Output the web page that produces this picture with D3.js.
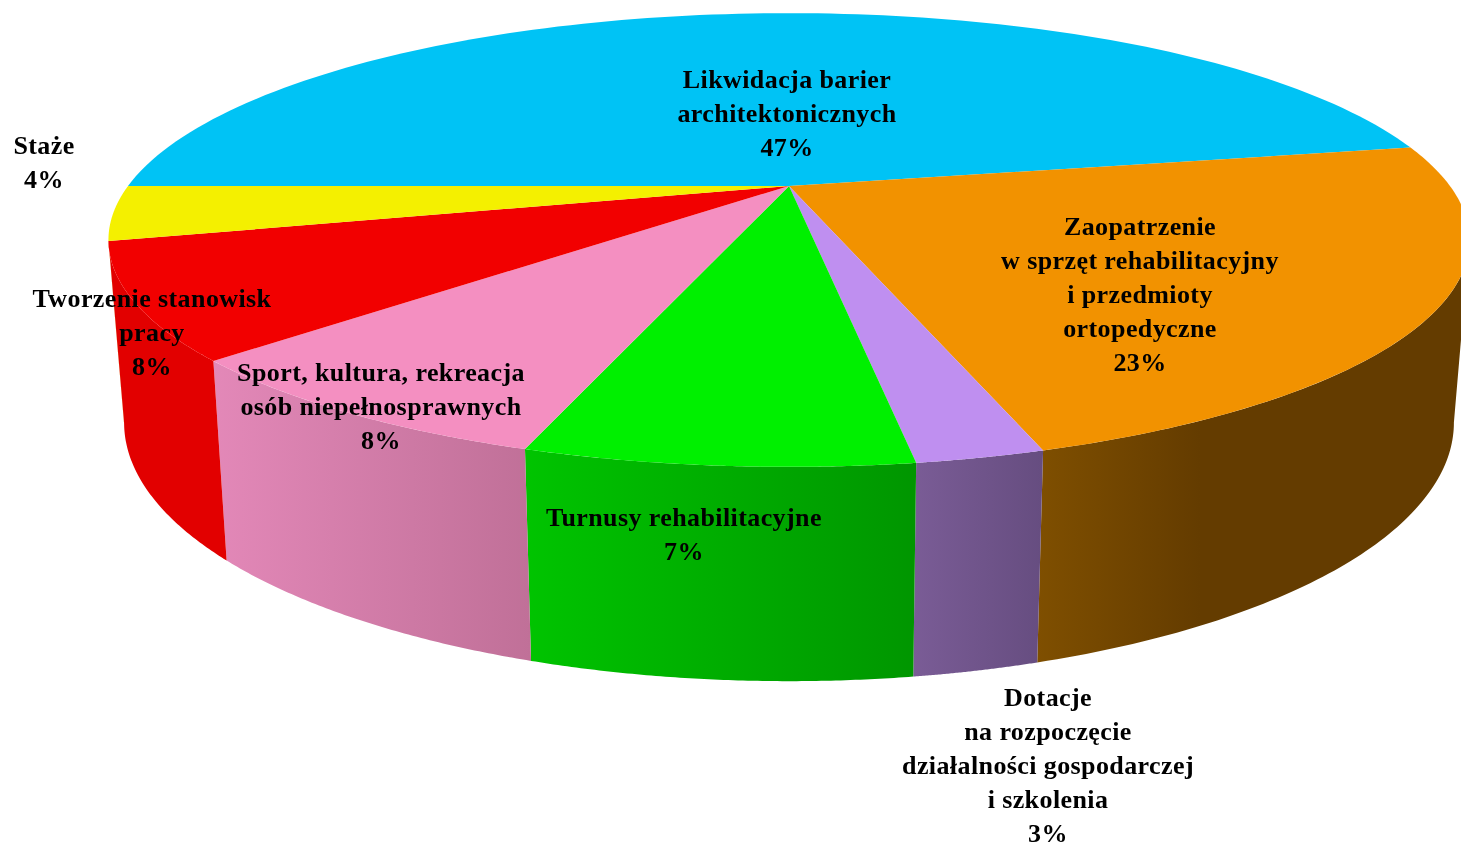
<!DOCTYPE html>
<html><head><meta charset="utf-8">
<script src="https://cdn.jsdelivr.net/npm/d3@7"></script>
<style>html,body{margin:0;padding:0;background:#fff;overflow:hidden}svg{display:block}</style>
</head><body><script>
// Data
const categories = ["Likwidacja barier architektonicznych","Zaopatrzenie w sprzęt rehabilitacyjny i przedmioty ortopedyczne","Dotacje na rozpoczęcie działalności gospodarczej i szkolenia","Turnusy rehabilitacyjne","Sport, kultura, rekreacja osób niepełnosprawnych","Tworzenie stanowisk pracy","Staże"];
const shares = [47.0,23.2,2.45,7.35,8.0,8.1,3.9];
const labelPercents = ["47%","23%","3%","7%","8%","8%","4%"];
const labelLines = [
 ["Likwidacja barier","architektonicznych"],
 ["Zaopatrzenie","w sprzęt rehabilitacyjny","i przedmioty","ortopedyczne"],
 ["Dotacje","na rozpoczęcie","działalności gospodarczej","i szkolenia"],
 ["Turnusy rehabilitacyjne"],
 ["Sport, kultura, rekreacja","osób niepełnosprawnych"],
 ["Tworzenie stanowisk","pracy"],
 ["Staże"]];
// Styles and layout
const topColors = ["#00c3f5","#f29200","#bf8ff0","#00f000","#f48fc1","#f20000","#f4f000"];
const sideFrom = ["#00a0c8","#7f4f00","#7a5c96","#00c400","#e388b8","#e20000","#d0cc00"];
const sideTo   = ["#00a0c8","#643c00","#664d80","#009600","#c07098","#e20000","#d0cc00"];
const labelX = [787,1140,1048,684,381,152,44];
const labelY = [88,235,706,526,381,307,154];
const lineStep = 34;

const W=1461,H=846,cx=789,cy=186,R=661,A=214,k=0.238,xShrink=0.977,wallF=1.14,wallY=361;
const topXY = t=>{const c=Math.cos(t),s=Math.sin(t),d=1-k*s;return [cx+R*c/d, cy+A*s/d];};
const botXY = t=>{const c=Math.cos(t),s=Math.sin(t),d=1-k*s;return [cx+xShrink*R*c/d, wallY+wallF*A*s/d];};
const tangent = Math.asin(k); // the wall is visible only between the two silhouette tangents

const svg=d3.select("body").append("svg").attr("width",W).attr("height",H).attr("viewBox",`0 0 ${W} ${H}`);
const pie=d3.pie().sort(null).startAngle(Math.PI).endAngle(3*Math.PI);
const arcs=pie(shares);
const line=d3.line();
const sample=(a,b,n)=>d3.range(n+1).map(i=>a+(b-a)*i/n);
const defs=svg.append("defs");
const blur=defs.append("filter").attr("id","soft").attr("x","-5%").attr("y","-20%").attr("width","110%").attr("height","140%");
blur.append("feGaussianBlur").attr("stdDeviation",0.45);

// side walls
const g=svg.append("g");
arcs.forEach((d,i)=>{
  [[d.startAngle,d.endAngle],[d.startAngle-2*Math.PI,d.endAngle-2*Math.PI]].forEach(([p,q],j)=>{
    const lo=Math.max(p,tangent),hi=Math.min(q,Math.PI-tangent);
    if(hi<=lo)return;
    const ts=sample(lo,hi,80);
    const pts=ts.map(topXY).concat(ts.slice().reverse().map(botXY));
    const x0=d3.min(pts,e=>e[0]),x1=d3.max(pts,e=>e[0]);
    const id=`side${i}_${j}`;
    const lg=defs.append("linearGradient").attr("id",id).attr("gradientUnits","userSpaceOnUse")
      .attr("x1",x0).attr("x2",i===1?Math.min(x1,1200):x1).attr("y1",0).attr("y2",0);
    lg.append("stop").attr("offset",0).attr("stop-color",sideFrom[i]);
    lg.append("stop").attr("offset",1).attr("stop-color",sideTo[i]);
    g.append("path").attr("d",line(pts)+"Z").attr("fill",`url(#${id})`);
  });
});
// top faces
svg.append("g").selectAll("path").data(arcs).join("path")
  .attr("d",d=>line([[cx,cy]].concat(sample(d.startAngle,d.endAngle,120).map(topXY)))+"Z")
  .attr("fill",(d,i)=>topColors[i]);
// labels
const lg=svg.append("g").attr("filter","url(#soft)").attr("font-family","'Liberation Serif',serif").attr("font-weight","bold").attr("font-size",26).attr("fill","#000").attr("text-anchor","middle");
labelLines.forEach((ls,i)=>{
  ls.concat([labelPercents[i]]).forEach((t,j)=>{
    lg.append("text").attr("x",labelX[i]).attr("y",labelY[i]+j*lineStep).attr("letter-spacing",0.4).text(t);
  });
});
</script></body></html>
